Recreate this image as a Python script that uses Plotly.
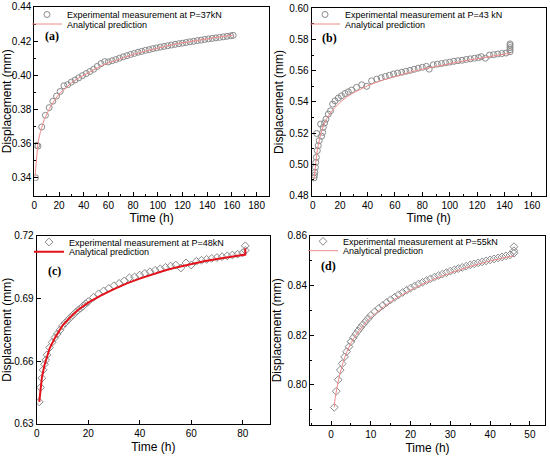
import plotly.graph_objects as go

# (a) P = 37 kN
t_a = [1, 2, 3, 6, 9, 12, 15, 18, 21, 24, 27, 30, 33, 36, 39, 42, 45, 48, 51, 54,
       57, 60, 63, 66, 69, 72, 75, 78, 81, 84, 87, 90, 93, 96, 99, 102, 105, 108,
       111, 114, 117, 120, 123, 126, 129, 132, 135, 138, 141, 144, 147, 150, 153,
       156, 159, 161]
d_a = [0.3400, 0.3590, 0.3585, 0.3697, 0.3765, 0.3810, 0.3848, 0.3878, 0.3905,
       0.3938, 0.3945, 0.3960, 0.3972, 0.3985, 0.3998, 0.4010, 0.4022, 0.4035,
       0.4052, 0.4068, 0.4080, 0.4078, 0.4085, 0.4092, 0.4100, 0.4108, 0.4115,
       0.4122, 0.4128, 0.4135, 0.4140, 0.4146, 0.4150, 0.4156, 0.4160, 0.4165,
       0.4169, 0.4173, 0.4177, 0.4181, 0.4185, 0.4188, 0.4192, 0.4196, 0.4199,
       0.4203, 0.4206, 0.4210, 0.4213, 0.4216, 0.4219, 0.4222, 0.4225, 0.4228,
       0.4231, 0.4234]
t_a_fit = [0.5, 1, 2, 3, 5, 8, 12, 16, 20, 25, 30, 35, 40, 45, 50, 55, 60, 70, 80,
           90, 100, 110, 120, 130, 140, 150, 161]
d_a_fit = [0.3400, 0.3450, 0.3560, 0.3605, 0.3670, 0.3740, 0.3800, 0.3850, 0.3890,
           0.3925, 0.3955, 0.3980, 0.4000, 0.4020, 0.4040, 0.4058, 0.4072, 0.4098,
           0.4122, 0.4142, 0.4160, 0.4176, 0.4190, 0.4203, 0.4215, 0.4225, 0.4235]

# (b) P = 43 kN
t_b = [1.0, 1.3, 1.6, 2.0, 2.3, 2.7, 2.9, 3.4, 4.1, 4.8, 5.8, 6.5, 7.3, 7.7, 8.7,
       9.7, 11.4, 13.0, 14.6, 16.3, 18.7, 21, 23.6, 26, 28.5, 32, 35.8, 39.4, 43,
       46.7, 50, 53, 56, 59, 62, 65, 68, 71, 74, 77, 80, 83, 85, 88, 91, 94, 97,
       100, 103, 106, 109, 112, 115, 118, 121, 123, 126, 129, 132, 135, 138, 141,
       144, 144, 144, 144, 144]
d_b = [0.4913, 0.4930, 0.4949, 0.4981, 0.5013, 0.5045, 0.5198, 0.5088, 0.5120,
       0.5152, 0.5258, 0.5180, 0.5205, 0.5237, 0.5265, 0.5290, 0.5322, 0.5343,
       0.5386, 0.5407, 0.5425, 0.5439, 0.5454, 0.5465, 0.5476, 0.5493, 0.5510,
       0.5500, 0.5535, 0.5546, 0.5555, 0.5563, 0.5571, 0.5579, 0.5585, 0.5590,
       0.5596, 0.5602, 0.5609, 0.5616, 0.5622, 0.5628, 0.5610, 0.5638, 0.5642,
       0.5646, 0.5651, 0.5655, 0.5660, 0.5664, 0.5667, 0.5672, 0.5676, 0.5680,
       0.5684, 0.5690, 0.5680, 0.5700, 0.5703, 0.5707, 0.5710, 0.5713, 0.5722,
       0.5735, 0.5748, 0.5762, 0.5772]
t_b_fit = [1, 1.5, 2, 3, 4, 5, 6, 8, 10, 13, 16, 20, 25, 30, 40, 50, 60, 70, 80, 90,
           100, 110, 120, 130, 144]
d_b_fit = [0.4905, 0.4955, 0.4995, 0.5065, 0.5120, 0.5165, 0.5200, 0.5250, 0.5288,
           0.5330, 0.5362, 0.5397, 0.5433, 0.5460, 0.5503, 0.5537, 0.5565, 0.5588,
           0.5610, 0.5628, 0.5646, 0.5662, 0.5677, 0.5692, 0.5712]

# (c) P = 48 kN
t_c = [1, 1.5, 2, 2.5, 3, 3.5, 4, 5, 6, 7, 8, 9, 10, 11, 12, 13, 14, 15, 16, 17,
       18, 19, 20, 22, 24, 26, 28, 30, 32, 34, 36, 38, 40, 42, 44, 46, 48, 50, 52,
       54, 56, 58, 60, 62, 64, 66, 68, 70, 72, 74, 76, 78, 80, 81, 81]
d_c = [0.6405, 0.6474, 0.6518, 0.6558, 0.6585, 0.6605, 0.6630, 0.6665, 0.6690,
       0.6712, 0.6730, 0.6748, 0.6768, 0.6782, 0.6795, 0.6808, 0.6820, 0.6832,
       0.6843, 0.6853, 0.6863, 0.6875, 0.6885, 0.6905, 0.6922, 0.6936, 0.6948,
       0.6961, 0.6972, 0.6984, 0.6999, 0.7003, 0.7012, 0.7020, 0.7028, 0.7035,
       0.7042, 0.7049, 0.7055, 0.7060, 0.7046, 0.7070, 0.7060, 0.7078, 0.7083,
       0.7087, 0.7092, 0.7096, 0.7100, 0.7104, 0.7108, 0.7112, 0.7118, 0.7130,
       0.7152]
t_c_fit = [1, 1.5, 2, 3, 4, 5, 7, 10, 13, 16, 20, 25, 30, 35, 40, 45, 50, 55, 60, 65,
           70, 75, 80, 81, 81]
d_c_fit = [0.6405, 0.6470, 0.6520, 0.6580, 0.6625, 0.6660, 0.6710, 0.6770, 0.6810,
           0.6845, 0.6880, 0.6915, 0.6945, 0.6972, 0.6995, 0.7016, 0.7035, 0.7051,
           0.7065, 0.7078, 0.7089, 0.7099, 0.7108, 0.7110, 0.7140]

# (d) P = 55 kN
t_d = [0.8, 1.3, 1.8, 2.3, 2.8, 3.4, 3.9, 4.5, 5.0, 5.6, 6.2, 6.8, 7.4, 8.0, 8.7,
       9.3, 10, 11, 12, 13, 14, 15, 16, 17, 18, 19, 20, 21, 22, 23, 24, 25, 26, 27,
       28, 29, 30, 31, 32, 33, 34, 35, 36, 37, 38, 39, 40, 41, 42, 43, 44, 45, 46,
       46, 46]
d_d = [0.7910, 0.7975, 0.8021, 0.8060, 0.8086, 0.8113, 0.8134, 0.8154, 0.8174,
       0.8190, 0.8205, 0.8218, 0.8231, 0.8243, 0.8256, 0.8267, 0.8280, 0.8295,
       0.8308, 0.8320, 0.8332, 0.8343, 0.8353, 0.8363, 0.8372, 0.8381, 0.8390,
       0.8398, 0.8406, 0.8413, 0.8420, 0.8427, 0.8434, 0.8440, 0.8446, 0.8452,
       0.8458, 0.8463, 0.8468, 0.8473, 0.8478, 0.8483, 0.8487, 0.8491, 0.8495,
       0.8499, 0.8503, 0.8507, 0.8511, 0.8515, 0.8519, 0.8523, 0.8530, 0.8540,
       0.8556]
t_d_fit = [0.8, 1, 1.5, 2, 3, 4, 5, 6, 8, 10, 13, 16, 20, 25, 30, 35, 40, 46]
d_d_fit = [0.7910, 0.7945, 0.7990, 0.8030, 0.8090, 0.8135, 0.8168, 0.8195, 0.8238,
           0.8272, 0.8312, 0.8345, 0.8382, 0.8420, 0.8450, 0.8477, 0.8499, 0.8520]

W, H = 550, 456
FONT = "Liberation Sans, Arial, sans-serif"
GRAY = "#8a8a8a"
PINK = "#f08a8a"
RED = "#e3121b"


def px(x):
    return x / W


def py(y):
    return 1 - y / H


panels = [
    dict(t=t_a, d=d_a, tf=t_a_fit, df=d_a_fit, name="Experimental measurement at P=37kN",
         sym="circle-open", lc=PINK, lw=1, xd=[34.3, 269], yd=[195, 6],
         xr=[0, 190], yr=[0.3295, 0.44], xdt=20, xm=10, ydt=0.02, ym=0.01,
         lab="(a)", labxy=(43, 35), leg=(27, 14, 24)),
    dict(t=t_b, d=d_b, tf=t_b_fit, df=d_b_fit, name="Experimental measurement at P=43 kN",
         sym="circle-open", lc=PINK, lw=1, xd=[311.7, 545.7], yd=[195, 7.3],
         xr=[-0.7, 170], yr=[0.48, 0.60], xdt=20, xm=10, ydt=0.02, ym=0.01,
         lab="(b)", labxy=(320, 37), leg=(305, 14, 24)),
    dict(t=t_c, d=d_c, tf=t_c_fit, df=d_c_fit, name="Experimental measurement at P=48kN",
         sym="diamond-open", lc=RED, lw=2, xd=[36.7, 270], yd=[423.7, 235.3],
         xr=[0, 90.6], yr=[0.63, 0.72], xdt=20, xm=None, ydt=0.03, ym=None,
         lab="(c)", labxy=(46, 271), leg=(29, 242, 251.7)),
    dict(t=t_d, d=d_d, tf=t_d_fit, df=d_d_fit, name="Experimental measurement at P=55kN",
         sym="diamond-open", lc=PINK, lw=1, xd=[310, 545], yd=[424.7, 235.3],
         xr=[-5.3, 53.8], yr=[0.784, 0.86], xdt=10, xm=5, ydt=0.02, ym=0.01,
         lab="(d)", labxy=(319, 265.5), leg=(303, 241.3, 250.7)),
]

fig = go.Figure()
layout = dict(width=W, height=H, margin=dict(l=0, r=0, t=0, b=0), showlegend=True,
              paper_bgcolor="white", plot_bgcolor="white",
              font=dict(family=FONT, color="black"), annotations=[])

for i, p in enumerate(panels):
    k = "" if i == 0 else str(i + 1)
    leg1 = "legend" + ("" if i == 0 else str(2 * i + 1))
    leg2 = "legend" + str(2 * i + 2)
    fig.add_trace(go.Scatter(
        x=p["t"], y=p["d"], mode="markers", name=p["name"], showlegend=True,
        marker=dict(symbol=p["sym"], size=6, color=GRAY, line=dict(width=1, color=GRAY)),
        xaxis="x" + k, yaxis="y" + k, legend=leg1))
    fig.add_trace(go.Scatter(
        x=p["tf"], y=p["df"], mode="lines", name="Analytical prediction", showlegend=True,
        line=dict(color=p["lc"], width=p["lw"]),
        xaxis="x" + k, yaxis="y" + k, legend=leg2))

    axis_common = dict(showline=True, linecolor="black", linewidth=1, mirror=True,
                       ticks="inside", ticklen=4, tickwidth=1, tickcolor="black",
                       showgrid=False, zeroline=False,
                       tickfont=dict(size=10, family=FONT), automargin=False)
    xa = dict(axis_common, domain=[px(p["xd"][0]), px(p["xd"][1])], range=p["xr"],
              dtick=p["xdt"], tick0=0, anchor="y" + k,
              title=dict(text="Time (h)", font=dict(size=12, family=FONT), standoff=4))
    ya = dict(axis_common, domain=[py(p["yd"][0]), py(p["yd"][1])], range=p["yr"],
              dtick=p["ydt"], tick0=0, tickformat=".2f", anchor="x" + k,
              title=dict(text="Displacement (mm)", font=dict(size=12, family=FONT), standoff=3))
    if p["xm"]:
        xa["minor"] = dict(ticks="inside", ticklen=2, dtick=p["xm"], tickcolor="black")
    if p["ym"]:
        ya["minor"] = dict(ticks="inside", ticklen=2, dtick=p["ym"], tickcolor="black")
    layout["xaxis" + k] = xa
    layout["yaxis" + k] = ya

    lx, ly1, ly2 = p["leg"]
    for lg, ly in ((leg1, ly1), (leg2, ly2)):
        layout[lg] = dict(x=px(lx), y=py(ly), xanchor="left", yanchor="middle",
                          bgcolor="rgba(0,0,0,0)", font=dict(size=9, family=FONT),
                          itemwidth=30, visible=True)

    layout["annotations"].append(dict(
        text="<b>%s</b>" % p["lab"], xref="paper", yref="paper",
        x=px(p["labxy"][0]), y=py(p["labxy"][1]), xanchor="left", yanchor="middle",
        showarrow=False, font=dict(size=12, family="Liberation Serif, Times New Roman, serif")))

fig.update_layout(**layout)
# drop the page's default body margin so the 550x456 figure fills the window
fig.write_html("out.html", config={"displayModeBar": False},
               post_script="document.body.style.margin='0';")
